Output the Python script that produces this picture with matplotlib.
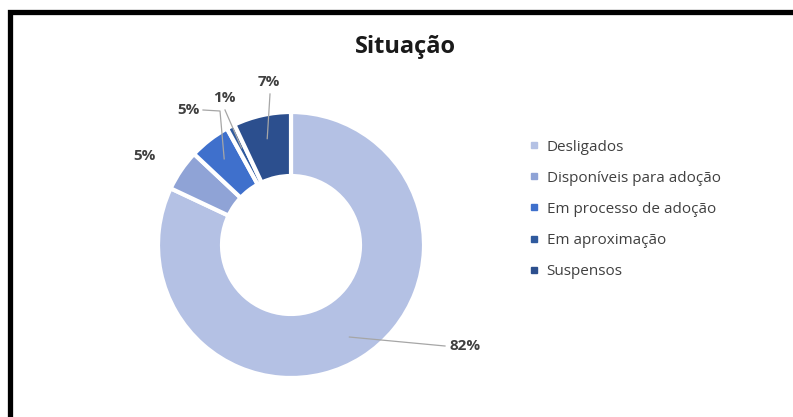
import matplotlib
matplotlib.use("Agg")
import matplotlib.pyplot as plt
import numpy as np
from matplotlib.lines import Line2D
from matplotlib.patches import Rectangle

categories = ["Desligados", "Disponíveis para adoção", "Em processo de adoção",
              "Em aproximação", "Suspensos"]
values = [82, 5, 5, 1, 7]
colors = ["#B4C1E4", "#8FA3D6", "#3F70CC", "#2F5A9E", "#2C4F8E"]

W, H = 793, 417
fig = plt.figure(figsize=(W / 100, H / 100), dpi=100)
ax = fig.add_axes([0, 0, 1, 1])
ax.set_xlim(0, W)
ax.set_ylim(0, H)
ax.set_aspect("equal")
ax.axis("off")

cx, cy, R, r_in = 291, H - 245, 133, 69
wedges, _ = ax.pie(values, colors=colors, startangle=90, counterclock=False,
                   center=(cx, cy), radius=R,
                   wedgeprops=dict(width=R - r_in, edgecolor="white", linewidth=3))
ax.set_xlim(0, W)
ax.set_ylim(0, H)

# label positions (pixels from top) and leader style
label_pos = [(465, 346), (145, 156), (189, 110), (224, 98), (269, 82)]
leader = ["right", None, "elbow", "down", "down"]
txt_color = "#404040"
for w, v, (lx, ly), ld in zip(wedges, values, label_pos, leader):
    ang = np.deg2rad((w.theta1 + w.theta2) / 2)
    ly_d = H - ly
    ax.text(lx, ly_d, f"{v}%", ha="center", va="center", fontsize=11,
            fontweight="bold", color=txt_color, family="Open Sans")
    rr = (R + r_in) / 2 + 8
    px, py = cx + rr * np.cos(ang), cy + rr * np.sin(ang)
    if ld == "right":
        ax.plot([px, lx - 20, lx - 20], [py, ly_d, ly_d], color="#a6a6a6", lw=0.9)
    elif ld == "elbow":
        ex, ey = lx + 14, ly_d
        kx = ex + 17
        ax.plot([ex, kx, px], [ey, ey - 1, py], color="#a6a6a6", lw=0.9)
    elif ld == "down":
        ax.plot([lx + 1, px], [ly_d - 12, py], color="#a6a6a6", lw=0.9)

ax.text(405, H - 47, "Situação", ha="center", va="center", fontsize=17,
        fontweight="bold", color="#1a1a1a", family="Open Sans")

handles = [Line2D([], [], marker="s", linestyle="none", markersize=5,
                  markerfacecolor=c, markeredgecolor=c) for c in colors]
leg = ax.legend(handles, categories, loc="upper left",
                bbox_to_anchor=(516 / W, 1 - 126 / H), frameon=False,
                handlelength=0.6, handletextpad=0.5, labelspacing=1.05,
                prop=dict(family="Open Sans", size=11))
for t in leg.get_texts():
    t.set_color(txt_color)

fig.patches.append(Rectangle((10 / W, -0.1), 1.2, 1 - 12 / H + 0.1,
                             transform=fig.transFigure, fill=False,
                             edgecolor="black", linewidth=3.8))

fig.savefig("out.png", dpi=100)
